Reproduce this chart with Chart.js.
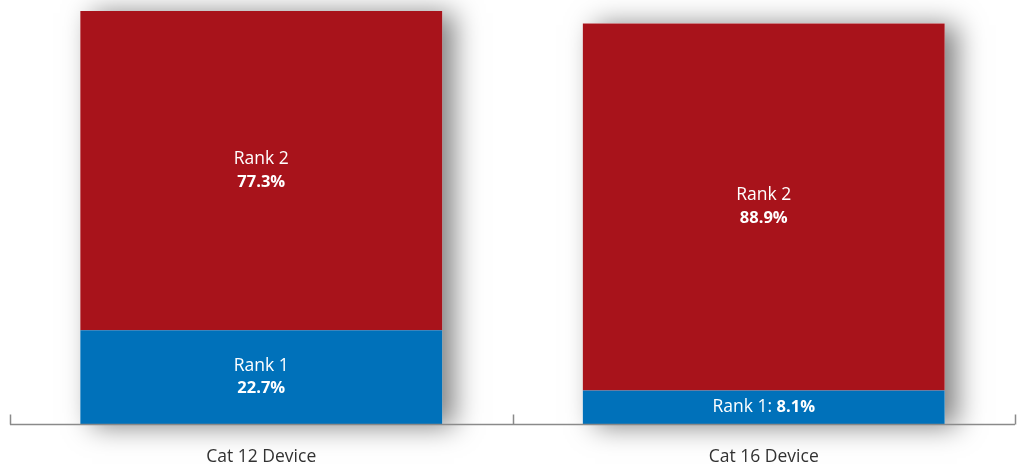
<!DOCTYPE html>
<html>
<head>
<meta charset="utf-8">
<script src="https://cdn.jsdelivr.net/npm/chart.js@4/dist/chart.umd.min.js"></script>
<style>
  html, body { margin: 0; padding: 0; background: #fff; }
  #wrap { width: 1017px; height: 464px; position: relative; }
</style>
</head>
<body>
<div id="wrap"><canvas id="chart"></canvas></div>
<script>
var categories = ["Cat 12 Device", "Cat 16 Device"];
var seriesNames = ["Rank 1", "Rank 2"];
var rank1 = [22.7, 8.1];
var rank2 = [77.3, 88.9];
var colors = ["#0071BA", "#A8131B"];

var FONT = "'Open Sans', sans-serif";

// soft shadow to the right of each whole stacked bar
var barShadow = {
  id: "barShadow",
  beforeDatasetsDraw: function(chart) {
    var ctx = chart.ctx;
    var top = chart.getDatasetMeta(chart.data.datasets.length - 1);
    var bottom = chart.getDatasetMeta(0);
    ctx.save();
    ctx.shadowColor = "rgba(0,0,0,0.5)";
    ctx.shadowBlur = 26;
    ctx.shadowOffsetX = 12;
    ctx.shadowOffsetY = 2;
    ctx.fillStyle = "#ffffff";
    for (var i = 0; i < categories.length; i++) {
      var t = top.data[i], b = bottom.data[i];
      var w = t.width;
      ctx.fillRect(t.x - w / 2, t.y, w, b.base - t.y);
    }
    ctx.restore();
  }
};

// axis line with short upward ticks at category edges
var axisLine = {
  id: "axisLine",
  afterDatasetsDraw: function(chart) {
    var ctx = chart.ctx, area = chart.chartArea, x = chart.scales.x;
    var y = area.bottom + 0.5;
    var edges = [area.left];
    for (var i = 0; i < categories.length - 1; i++) {
      edges.push((x.getPixelForValue(i) + x.getPixelForValue(i + 1)) / 2);
    }
    edges.push(area.right);
    ctx.save();
    ctx.strokeStyle = "#8a8a8a";
    ctx.lineWidth = 1.5;
    ctx.beginPath();
    ctx.moveTo(area.left, y);
    ctx.lineTo(area.right, y);
    edges.forEach(function(ex) {
      ex = Math.round(ex) + 0.5;
      ctx.moveTo(ex, y);
      ctx.lineTo(ex, y - 10);
    });
    ctx.stroke();
    ctx.restore();
  }
};

// labels inside the bar segments
var segmentLabels = {
  id: "segmentLabels",
  afterDatasetsDraw: function(chart) {
    var ctx = chart.ctx;
    var regular = "17.5px " + FONT, bold = "bold 16.5px " + FONT;
    ctx.save();
    ctx.fillStyle = "#ffffff";
    ctx.textBaseline = "middle";
    chart.data.datasets.forEach(function(ds, di) {
      var meta = chart.getDatasetMeta(di);
      meta.data.forEach(function(bar, i) {
        var name = seriesNames[di];
        var val = ds.data[i].toFixed(1) + "%";
        var h = bar.base - bar.y;
        var cy = bar.y + h / 2;
        if (h > 60) {
          ctx.textAlign = "center";
          ctx.font = regular;
          ctx.fillText(name, bar.x, cy - 11.5);
          ctx.font = bold;
          ctx.fillText(val, bar.x, cy + 11.5);
        } else {
          var a = name + ": ";
          ctx.font = regular;
          var wa = ctx.measureText(a).width;
          ctx.font = bold;
          var wb = ctx.measureText(val).width;
          var sx = bar.x - (wa + wb) / 2;
          ctx.textAlign = "left";
          ctx.font = regular;
          ctx.fillText(a, sx, cy);
          ctx.font = bold;
          ctx.fillText(val, sx + wa, cy);
        }
      });
    });
    ctx.restore();
  }
};

new Chart(document.getElementById("chart"), {
  type: "bar",
  data: {
    labels: categories,
    datasets: [
      { label: seriesNames[0], data: rank1, backgroundColor: colors[0], borderWidth: 0 },
      { label: seriesNames[1], data: rank2, backgroundColor: colors[1], borderWidth: 0 }
    ]
  },
  options: {
    responsive: true,
    maintainAspectRatio: false,
    animation: false,
    layout: { padding: { left: 10, right: 2, top: 11, bottom: 0 } },
    datasets: { bar: { categoryPercentage: 1, barPercentage: 0.72 } },
    plugins: {
      legend: { display: false },
      tooltip: { enabled: false }
    },
    scales: {
      x: {
        stacked: true,
        grid: { display: false, drawTicks: false },
        border: { display: false },
        ticks: { color: "#333333", font: { family: FONT, size: 17.5 }, padding: 23 },
        afterFit: function(scale) { scale.height = 40; }
      },
      y: {
        stacked: true,
        display: false,
        min: 0,
        max: 100
      }
    }
  },
  plugins: [barShadow, axisLine, segmentLabels]
});
</script>
</body>
</html>
